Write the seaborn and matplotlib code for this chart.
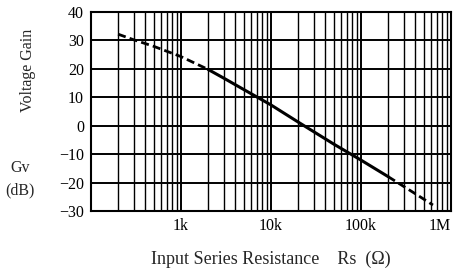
import matplotlib
matplotlib.use("Agg")
import matplotlib.pyplot as plt
import seaborn as sns
import numpy as np
import pandas as pd

# Data
rs_dash_low = [200, 300, 500, 1000, 2000]
gv_dash_low = [32.2, 30.2, 27.9, 24.3, 19.8]
rs_solid = [2000, 3000, 5000, 10000, 20000, 50000, 100000, 200000]
gv_solid = [19.8, 16.7, 12.7, 7.3, 1.3, -6.5, -12.1, -17.9]
rs_dash_high = [200000, 400000, 630000]
gv_dash_high = [-17.9, -23.9, -27.9]

x_ticks = [1e3, 1e4, 1e5, 1e6]
x_tick_labels = ["1k", "10k", "100k", "1M"]
y_ticks = [-30, -20, -10, 0, 10, 20, 30, 40]
y_tick_labels = ["\u221230", "\u221220", "\u221210", "0", "10", "20", "30", "40"]

sns.set_style("white")
plt.rcParams['font.family'] = ['Liberation Serif', 'DejaVu Serif']

fig = plt.figure(figsize=(4.59, 2.71), dpi=100)
ax = fig.add_axes([91/459, 1 - 211/271, (451 - 91)/459, (211 - 12)/271])

df_lo = pd.DataFrame({"rs": rs_dash_low, "gv": gv_dash_low})
df_mid = pd.DataFrame({"rs": rs_solid, "gv": gv_solid})
df_hi = pd.DataFrame({"rs": rs_dash_high, "gv": gv_dash_high})

dash = (0, (2.9, 1.5))
sns.lineplot(data=df_lo, x="rs", y="gv", ax=ax, color="black", lw=2.0, linestyle=dash, zorder=5)
sns.lineplot(data=df_mid, x="rs", y="gv", ax=ax, color="black", lw=2.2, zorder=5)
sns.lineplot(data=df_hi, x="rs", y="gv", ax=ax, color="black", lw=2.0, linestyle=dash, zorder=5)

ax.set_xscale("log")
ax.set_xlim(100, 1e6)
ax.set_ylim(-30, 40)

ax.set_xticks(x_ticks)
ax.set_xticklabels(x_tick_labels, fontsize=11.5)
ax.get_xticklabels()[-1].set_horizontalalignment("right")
ax.set_xticks([m * 10**d for d in range(2, 6) for m in range(2, 10)], minor=True)
ax.set_yticks(y_ticks)
ax.set_yticklabels(y_tick_labels, fontsize=11.5)

ax.grid(True, which="major", axis="both", color="black", lw=1.4)
ax.grid(True, which="minor", axis="x", color="black", lw=1.0)
ax.tick_params(axis="both", which="major", direction="out", length=3, width=1, colors="black", pad=2)
ax.tick_params(axis="x", which="minor", length=0)
for s in ax.spines.values():
    s.set_color("black")
    s.set_linewidth(1.5)

ax.set_xlabel("Input Series Resistance\u2003Rs\u2002(\u03a9)", fontsize=13, labelpad=12)
ax.set_ylabel("")

fig.text(28/459, 1 - 70/271, "Voltage Gain", rotation=90, ha="center", va="center", fontsize=11.5)
fig.text(20/459, 1 - 168/271, "Gv", ha="center", va="center", fontsize=11.5)
fig.text(20/459, 1 - 190/271, "(dB)", ha="center", va="center", fontsize=11.5)

fig.savefig("out.png", dpi=100)
